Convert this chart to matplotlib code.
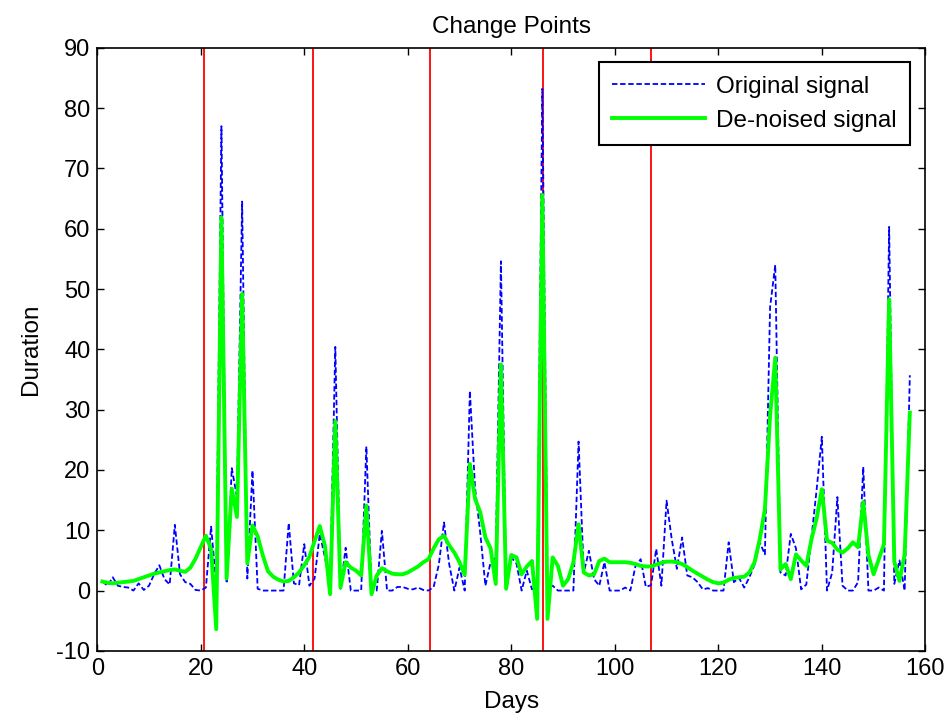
import numpy as np
import matplotlib
matplotlib.use("Agg")
import matplotlib.pyplot as plt

plt.rcParams['font.family'] = ['Liberation Sans', 'DejaVu Sans']
plt.rcParams['axes.unicode_minus'] = False

days = np.arange(1, 158)

original = [1.5, 0.8, 2.2, 0.8, 0.6, 0.5, 0, 1.2, 0.1, 0.8,
            2.7, 4.2, 1.9, 1.0, 10.9, 2.7, 1.4, 1.1, 0.1, 0,
            0.5, 10.6, 1.0, 77, 1.2, 20.3, 15.5, 64.5, 2.0, 19.9,
            0.3, 0, 0, 0, 0, 0, 11.2, 1.2, 0.9, 7.7,
            0.8, 2.0, 9.4, 5.5, 1.0, 40.4, 0.3, 7.1, 0, 0,
            0, 23.9, 0, 0, 9.9, 0, 0, 0.6, 0.6, 0.3,
            0.2, 0.5, 0.1, 0, 0.6, 4.3, 11.3, 4.4, 0, 3.8,
            0, 33.1, 17.0, 9.6, 0.8, 4.7, 5.5, 54.6, 0.5, 5.5,
            4.5, 0, 3.3, 0.2, 0.5, 83.2, 0.8, 0.8, 0, 0,
            0, 0, 24.7, 3.0, 6.6, 1.9, 0.8, 4.7, 0, 0,
            0, 0.5, 0, 4.1, 5.2, 0.6, 0.9, 6.9, 0.8, 14.9,
            8.5, 3.6, 8.8, 2.5, 2.2, 1.4, 0.2, 0.4, 0, 0,
            0, 8.0, 1.4, 2.1, 0.5, 2.2, 4.3, 8.0, 6.0, 47,
            54, 3.0, 2.5, 9.4, 7.0, 0.2, 1.0, 8.8, 16.8, 25.5,
            0, 3.0, 15.5, 0.8, 0, 0, 1.4, 20.5, 0, 0,
            0.5, 0, 60.3, 1.1, 5.0, 0, 35.7]

denoised = [1.5, 1.3, 1.2, 1.3, 1.4, 1.5, 1.6, 1.9, 2.2, 2.5,
            2.8, 3.0, 3.2, 3.4, 3.5, 3.3, 3.1, 3.8, 5.3, 7.2,
            9.1, 6.9, -6.4, 61.9, 2.0, 16.9, 12.2, 49.2, 4.5, 10.8,
            9.0, 5.8, 3.2, 2.3, 1.8, 1.5, 1.6, 2.2, 3.0, 4.2,
            5.6, 8.2, 10.7, 7.4, -0.6, 28.1, 0.5, 4.7, 3.8, 3.3,
            2.5, 14.1, -0.6, 2.5, 3.7, 3.2, 2.8, 2.7, 2.7, 3.0,
            3.5, 4.0, 4.7, 5.2, 7.0, 8.5, 9.1, 7.5, 6.3, 4.7,
            2.6, 21.0, 15.2, 13.0, 8.8, 7.0, 1.1, 37.5, 0.3, 5.9,
            5.5, 2.7, 4.0, 4.9, -4.7, 65.6, -4.7, 5.5, 4.1, 0.8,
            1.9, 4.7, 11.0, 3.0, 2.5, 2.7, 4.9, 5.3, 4.7, 4.7,
            4.7, 4.7, 4.6, 4.4, 4.1, 4.0, 4.0, 4.3, 4.6, 4.8,
            4.8, 4.7, 4.4, 3.9, 3.3, 2.8, 2.3, 1.8, 1.4, 1.2,
            1.3, 1.8, 2.1, 2.2, 2.3, 3.0, 4.7, 8.5, 13.5, 29.0,
            38.6, 3.5, 4.4, 1.9, 6.0, 5.0, 4.1, 8.5, 12.0, 16.8,
            8.3, 7.9, 6.8, 6.3, 7.0, 8.0, 7.2, 14.7, 5.9, 2.7,
            5.2, 7.7, 48.3, 4.8, 1.6, 6.0, 29.5]

change_points = [20.7, 41.6, 64.2, 86.1, 107]

fig = plt.figure(figsize=(9.53, 7.24), dpi=100)
ax = fig.add_axes([0.102, 0.101, 0.869, 0.833])

for cp in change_points:
    ax.axvline(cp, color='red', linewidth=1.3, zorder=1)

ax.plot(days, original, color='blue', linestyle=(0, (3, 1.5)), linewidth=1.3,
        label='Original signal', zorder=2)
ax.plot(days, denoised, color='#00ff00', linewidth=2.8, label='De-noised signal', zorder=3)

ax.set_xlim(0, 160)
ax.set_ylim(-10, 90)
ax.set_xticks(np.arange(0, 161, 20))
ax.set_yticks(np.arange(-10, 91, 10))
ax.tick_params(direction='in', top=True, right=True, labelsize=17, length=5, width=1, pad=5)
for s in ax.spines.values():
    s.set_linewidth(1.2)

ax.set_title('Change Points', fontsize=17.5, pad=11)
ax.set_xlabel('Days', fontsize=17.5, labelpad=8)
ax.set_ylabel('Duration', fontsize=17.5, labelpad=10)

leg = ax.legend(loc='upper right', fontsize=17.5, fancybox=False, framealpha=1,
                edgecolor='black', handlelength=3.8, handletextpad=0.45,
                borderpad=0.55, labelspacing=0.5, borderaxespad=0.3,
                bbox_to_anchor=(0.99, 0.988))
leg.get_frame().set_linewidth(1.5)

fig.savefig('out.png', dpi=100)
